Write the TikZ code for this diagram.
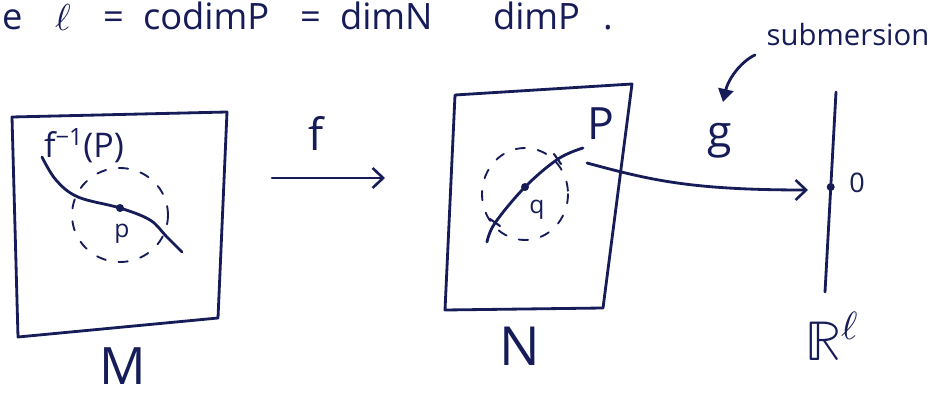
\documentclass[tikz,border=0pt]{standalone}
\usepackage{fontspec}
\usepackage{unicode-math}
\setmainfont{Open Sans}
\setmathfont{Latin Modern Math}
\usetikzlibrary{arrows.meta}
\definecolor{ink}{RGB}{22,28,88}
\newcommand{\fsz}[1]{\fontsize{#1}{#1}\selectfont}
\begin{document}
\begin{tikzpicture}[x=0.03cm,y=-0.03cm,line cap=round,line join=round,
  every node/.style={text=ink,inner sep=0pt,outer sep=0pt},
  inkline/.style={draw=ink,line width=2.4pt},
  dashline/.style={draw=ink,line width=1.6pt,dash pattern=on 8pt off 11pt},
  toptext/.style={anchor=base west,font=\fsz{31}},
  biglabel/.style={font=\fsz{46}},
  midlabel/.style={font=\fsz{38}},
  smalllabel/.style={font=\fsz{21}},
  openhead/.style={-{Straight Barb[length=9pt,width=17pt,line width=2.2pt]}},
  fillhead/.style={-{Triangle[length=11pt,width=13pt]}}]
\useasboundingbox (0,0) rectangle (933,400);
\fill[white] (0,0) rectangle (933,400);

% top line
\node[toptext] (t1) at (2,30) {e};
\node[toptext,font=\fsz{32}] (t2) at (55,31) {$\ell$};
\node[toptext] (t3) at (103,30) {=};
\node[toptext] (t4) at (143,30) {codimP};
\node[toptext] (t5) at (300,30) {=};
\node[toptext] (t6) at (340,30) {dimN};
\node[toptext] (t7) at (493,30) {dimP};
\node[toptext] (t8) at (603,30) {.};

% manifold M
\coordinate (m1) at (12,117);
\coordinate (m2) at (227,112);
\coordinate (m3) at (218,318);
\coordinate (m4) at (18,337);
\draw[inkline] (m1) -- (m2) -- (m3) -- (m4) -- cycle;
\draw[dashline] (120,215) ellipse (48 and 47);
\draw[inkline] plot[smooth,tension=0.6] coordinates {(42,157) (56,180) (78,197) (120,208) (150,220) (166,236) (182,252)};
\fill[ink] (120,208) circle (4);
\node[smalllabel] (plab) at (122,234) {p};
\node[font=\fsz{29}] (fpre) at (84,146) {f\textsuperscript{−1}(P)};
\node[font=\fsz{44}] (Mlab) at (123,366) {M};

% arrow f
\coordinate (fa) at (272,178);
\coordinate (fb) at (385,178);
\draw[inkline,openhead] (fa) -- (fb);
\node[midlabel] (flab) at (316,133) {f};

% manifold N
\coordinate (n1) at (455,95);
\coordinate (n2) at (632,84);
\coordinate (n3) at (603,308);
\coordinate (n4) at (445,310);
\draw[inkline] (n1) -- (n2) -- (n3) -- (n4) -- cycle;
\draw[dashline] (525,194) ellipse (43 and 46);
\draw[inkline] plot[smooth,tension=0.6] coordinates {(487,242) (495,223) (525,187) (558,159) (583,148)};
\draw[inkline,line width=1.8pt] (490,219) -- (500,226);
\draw[inkline,line width=1.8pt] (554,154) -- (561,164);
\fill[ink] (525,187) circle (4);
\node[smalllabel] (qlab) at (537,210) {q};
\node[midlabel] (Plab) at (601,124) {P};
\node[biglabel] (Nlab) at (520,346) {N};

% arrow g
\coordinate (gs) at (587,163);
\coordinate (ge) at (808,190);
\draw[inkline,openhead] (gs) .. controls (650,180) and (690,190) .. (ge);
\node[midlabel] (glab) at (720,141) {g};

% submersion
\node[anchor=base,font=\fsz{25}] (sub) at (848,46) {submersion};
\coordinate (sa) at (755,55);
\coordinate (sb) at (723,102);
\draw[inkline,fillhead] (sa) .. controls (740,62) and (728,80) .. (sb);

% R^l
\coordinate (r1) at (836,92);
\coordinate (r2) at (825,292);
\draw[inkline] (r1) -- (r2);
\fill[ink] (830.7,187) circle (4);
\node[smalllabel,font=\fsz{23}] (zlab) at (857,183) {0};
\node[font=\fsz{48}] (Rlab) at (832,336) {$\mathbb{R}^{\ell}$};
\end{tikzpicture}
\end{document}
